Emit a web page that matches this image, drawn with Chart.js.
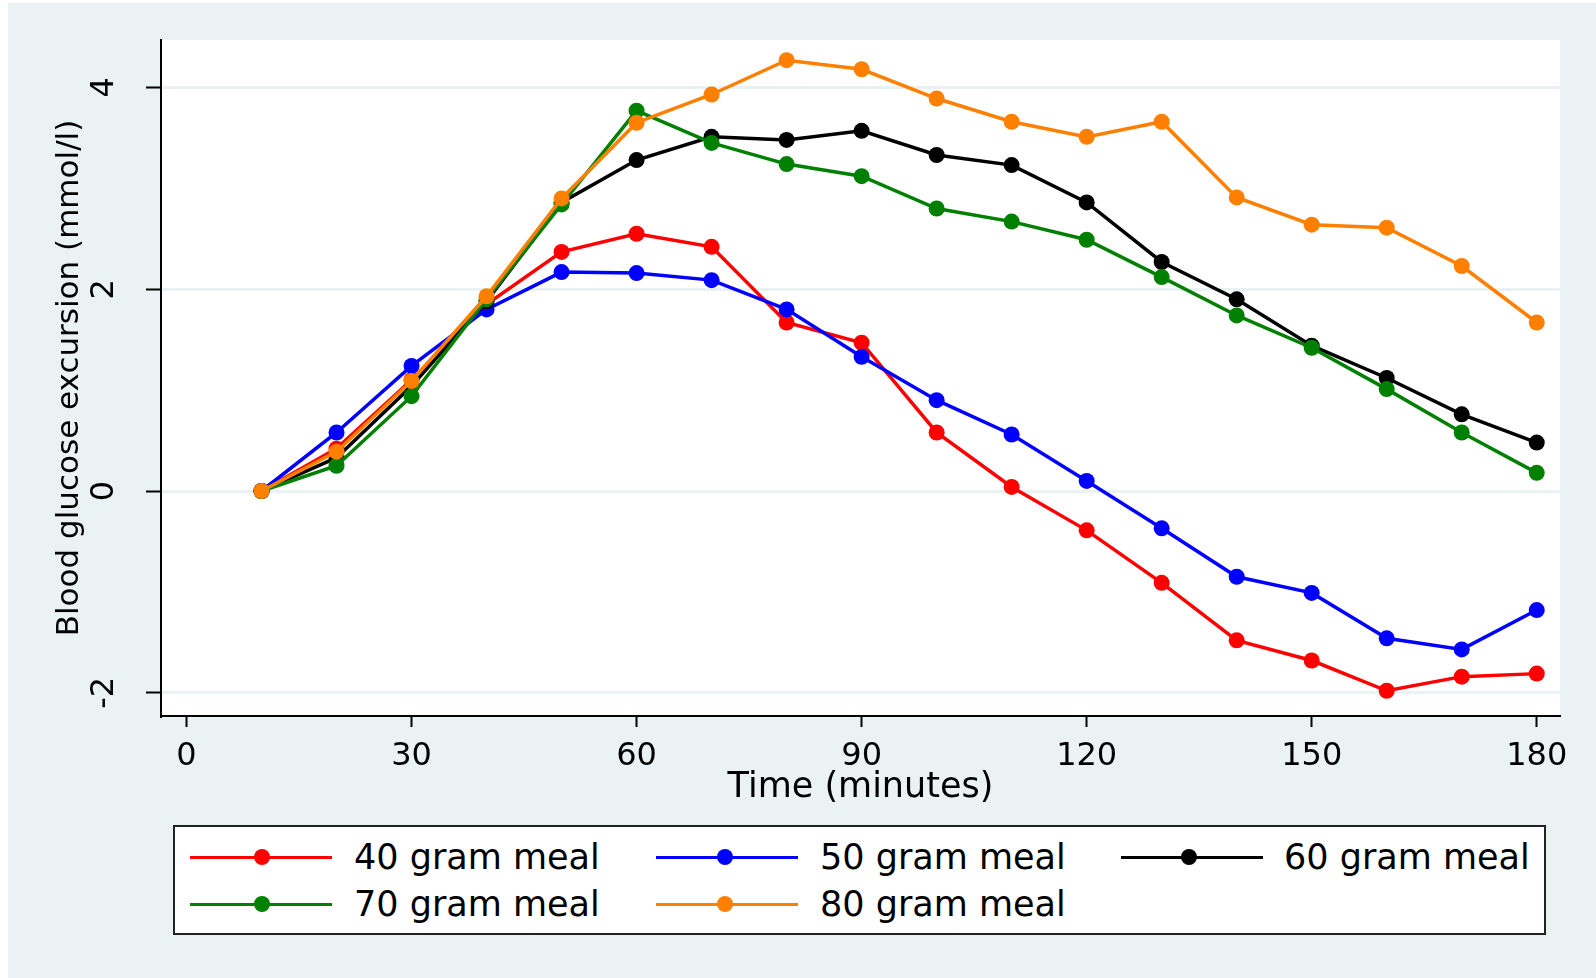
<!DOCTYPE html>
<html>
<head>
<meta charset="utf-8">
<title>Blood glucose excursion</title>
<script src="https://cdn.jsdelivr.net/npm/chart.js@4.4.1/dist/chart.umd.min.js"></script>
<style>
    html, body { margin: 0; padding: 0; background: #fff; }
    #wrap { position: relative; width: 1596px; height: 978px; overflow: hidden; }
    #chart { position: absolute; left: 0; top: 0; }
    #legend {
        position: absolute; left: 173px; top: 825px; width: 1369px; height: 106px;
        border: 2px solid #222; background: #fff;
        font-family: 'DejaVu Sans', sans-serif; font-size: 35px; color: #000;
    }
    #legend .line { position: absolute; height: 3px; }
    #legend .dot { position: absolute; width: 16px; height: 16px; border-radius: 50%; }
    #legend .txt { position: absolute; line-height: 1; transform: translateY(-50%); white-space: nowrap; }
</style>
</head>
<body>
<div id="wrap">
    <canvas id="chart" width="1596" height="978"></canvas>
    <div id="legend"></div>
</div>
<script>
const minutes = [10, 20, 30, 40, 50, 60, 70, 80, 90, 100, 110, 120, 130, 140, 150, 160, 170, 180];

const meal40 = [0, 0.42, 1.10, 1.85, 2.37, 2.55, 2.42, 1.67, 1.47, 0.58, 0.04, -0.39, -0.91, -1.48, -1.68, -1.98, -1.84, -1.81];
const meal50 = [0, 0.58, 1.24, 1.80, 2.17, 2.16, 2.09, 1.80, 1.33, 0.90, 0.56, 0.10, -0.37, -0.85, -1.01, -1.46, -1.57, -1.18];
const meal60 = [0, 0.33, 1.04, 1.88, 2.86, 3.28, 3.51, 3.48, 3.57, 3.33, 3.23, 2.86, 2.27, 1.90, 1.44, 1.12, 0.76, 0.48];
const meal70 = [0, 0.25, 0.94, 1.90, 2.84, 3.77, 3.45, 3.24, 3.12, 2.80, 2.67, 2.49, 2.12, 1.74, 1.42, 1.01, 0.58, 0.18];
const meal80 = [0, 0.39, 1.09, 1.93, 2.90, 3.65, 3.93, 4.27, 4.18, 3.89, 3.66, 3.51, 3.66, 2.91, 2.64, 2.61, 2.23, 1.67];

const seriesLabels = ['40 gram meal', '50 gram meal', '60 gram meal', '70 gram meal', '80 gram meal'];
const seriesValues = [meal40, meal50, meal60, meal70, meal80];
const seriesColors = ['#ff0000', '#0000ff', '#000000', '#008000', '#ff8000'];

const xTicks = [0, 30, 60, 90, 120, 150, 180];
const yTicks = [-2, 0, 2, 4];

const BG = '#eaf2f3';
const FONT = 'DejaVu Sans';

const background = {
    id: 'background',
    beforeDraw(chart) {
        const { ctx, width, height, chartArea } = chart;
        ctx.save();
        ctx.fillStyle = '#fff';
        ctx.fillRect(0, 0, width, height);
        ctx.fillStyle = BG;
        ctx.fillRect(8, 3, width - 8, height - 3);
        ctx.fillStyle = '#fff';
        ctx.fillRect(chartArea.left, chartArea.top, chartArea.right - chartArea.left, chartArea.bottom - chartArea.top);
        ctx.restore();
    }
};

const datasets = seriesLabels.map((label, i) => ({
    label: label,
    data: minutes.map((m, j) => ({ x: m, y: seriesValues[i][j] })),
    borderColor: seriesColors[i],
    backgroundColor: seriesColors[i],
    borderWidth: 3.5,
    pointRadius: 8,
    pointBorderWidth: 0,
    pointStyle: 'circle',
    tension: 0,
    order: seriesLabels.length - i
}));

new Chart(document.getElementById('chart'), {
    type: 'line',
    data: { datasets: datasets },
    options: {
        responsive: false,
        animation: false,
        layout: { padding: { top: 40, right: 36, left: 0, bottom: 0 } },
        plugins: { legend: { display: false }, tooltip: { enabled: false } },
        scales: {
            x: {
                type: 'linear',
                min: -3.4,
                max: 183.1,
                afterFit(scale) { scale.height = 262; },
                afterBuildTicks(scale) { scale.ticks = xTicks.map(v => ({ value: v })); },
                border: { display: true, color: '#000', width: 2 },
                grid: { drawOnChartArea: false, drawTicks: true, tickLength: 11, tickColor: '#000', tickWidth: 2 },
                ticks: { color: '#000', padding: 10, font: { family: FONT, size: 32 }, maxRotation: 0, autoSkip: false },
                title: {
                    display: true,
                    text: 'Time (minutes)',
                    color: '#000',
                    font: { family: FONT, size: 35 },
                    padding: { top: 0, bottom: 169 }
                }
            },
            y: {
                min: -2.23,
                max: 4.47,
                afterFit(scale) {
                    scale.width = 161;
                    scale.paddingTop = 0;
                    scale.paddingBottom = 0;
                },
                afterBuildTicks(scale) { scale.ticks = yTicks.map(v => ({ value: v })); },
                border: { display: true, color: '#000', width: 2 },
                grid: { color: BG, lineWidth: 3, drawTicks: true, tickLength: 15, tickColor: '#000', tickWidth: 2 },
                ticks: {
                    color: '#000', padding: 25, crossAlign: 'center',
                    minRotation: 90, maxRotation: 90,
                    font: { family: FONT, size: 32 }
                },
                title: {
                    display: true,
                    text: 'Blood glucose excursion (mmol/l)',
                    color: '#000',
                    font: { family: FONT, size: 31 },
                    padding: { top: 51, bottom: 0 }
                }
            }
        }
    },
    plugins: [background]
});

// legend built from the same series arrays
const legendEl = document.getElementById('legend');
const cols = [
    { line: 190, dot: 262, text: 354 },
    { line: 656, dot: 725, text: 820 },
    { line: 1121, dot: 1189, text: 1284 }
];
const rows = [857, 904];
const boxLeft = 175, boxTop = 827;
seriesLabels.forEach((label, i) => {
    const c = cols[i % 3];
    const r = rows[Math.floor(i / 3)] - boxTop;
    const line = document.createElement('div');
    line.className = 'line';
    line.style.left = (c.line - boxLeft) + 'px';
    line.style.width = '142px';
    line.style.top = (r - 1.5) + 'px';
    line.style.background = seriesColors[i];
    const dot = document.createElement('div');
    dot.className = 'dot';
    dot.style.left = (c.dot - boxLeft - 8) + 'px';
    dot.style.top = (r - 8) + 'px';
    dot.style.background = seriesColors[i];
    const txt = document.createElement('div');
    txt.className = 'txt';
    txt.style.left = (c.text - boxLeft) + 'px';
    txt.style.top = r + 'px';
    txt.textContent = label;
    legendEl.append(line, dot, txt);
});
</script>
</body>
</html>
